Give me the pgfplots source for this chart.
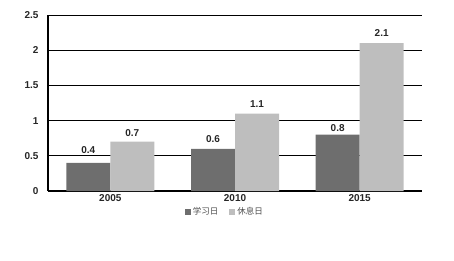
\documentclass[border=0pt]{standalone}
\usepackage{pgfplots}
\usepackage{pgfplotstable}
\pgfplotsset{compat=1.18}
\usepackage{fontspec}
\setmainfont{Liberation Sans}
\newfontfamily\cjk{Noto Sans CJK SC}
\definecolor{dark}{HTML}{6E6E6E}
\definecolor{light}{HTML}{BEBEBE}
\pgfplotstableread{
x y s
0 0.4 5.7
1 0.6 3.0
2 0.8 -0.3
}\study
\pgfplotstableread{
x y s
0 0.7 1.7
1 1.1 2.7
2 2.1 2.7
}\rest
\begin{document}
\begin{tikzpicture}[x=1pt,y=1pt]
\useasboundingbox (0,0) rectangle (454,260);
\begin{axis}[
  at={(48pt,69pt)}, anchor=south west,
  scale only axis, width=374pt, height=176pt,
  ybar=0pt, bar width=44pt,
  xmin=-0.5, xmax=2.5, ymin=0, ymax=2.5,
  xtick=data, xticklabels={2005,2010,2015},
  ytick={0,0.5,1,1.5,2,2.5},
  yticklabels={0,0.5,1,1.5,2,2.5},
  /pgf/number format/assume math mode=true,
  axis x line*=bottom, axis y line*=left,
  axis line style={line width=2.4pt, -},
  major tick length=0pt,
  ymajorgrids, grid style={black, line width=0.8pt},
  tick label style={font=\fontsize{10}{11}\selectfont\bfseries, text=black!85},
  yticklabel style={xshift=-6pt},
  nodes near coords,
  visualization depends on={\thisrow{s} \as \myshift},
  every node near coord/.append style={font=\fontsize{10}{11}\selectfont\bfseries, text=black!85, yshift=\myshift pt},
  legend style={at={(0.473,-0.12)}, anchor=center, draw=none, fill=none,
    font=\fontsize{8.5}{10}\selectfont\cjk, text=black!70,
    /tikz/every even column/.append style={column sep=9pt}},
  legend columns=2,
  legend image code/.code={\fill[#1] (0pt,-3pt) rectangle (6pt,3pt);},
]
\addplot[fill=dark, draw=none] table[x=x,y=y] {\study};
\addplot[fill=light, draw=none] table[x=x,y=y] {\rest};
\legend{学习日,休息日}
\end{axis}
\end{tikzpicture}
\end{document}
